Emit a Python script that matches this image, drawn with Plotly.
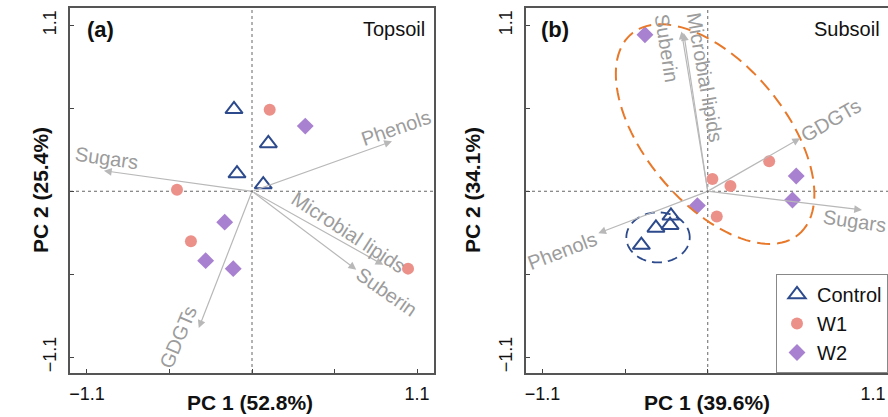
import numpy as np
import plotly.graph_objects as go

# ---------------- data ----------------
groups = ["Control", "W1", "W2"]

# Topsoil scores (PC1, PC2)
top_control_x = [-0.120, 0.109, -0.100, 0.075]
top_control_y = [0.543, 0.317, 0.117, 0.044]
top_w1_x = [0.118, -0.500, -0.407, 1.040]
top_w1_y = [0.540, 0.010, -0.331, -0.513]
top_w2_x = [0.355, -0.182, -0.309, -0.125]
top_w2_y = [0.432, -0.205, -0.460, -0.513]

# Subsoil scores (PC1, PC2)
sub_control_x = [-0.245, -0.345, -0.251, -0.442]
sub_control_y = [-0.163, -0.243, -0.225, -0.357]
sub_w1_x = [0.031, 0.151, 0.409, 0.060]
sub_w1_y = [0.081, 0.035, 0.199, -0.168]
sub_w2_x = [-0.418, 0.589, 0.564, -0.069]
sub_w2_y = [1.038, 0.101, -0.058, -0.095]

# Loadings (arrow tips)
variables = ["Sugars", "Phenols", "Microbial lipids", "Suberin", "GDGTs"]
top_load_x = [-0.987, 0.933, 0.875, 0.695, -0.355]
top_load_y = [0.136, 0.331, -0.488, -0.520, -0.907]
sub_load_x = [1.027, -0.729, -0.160, -0.175, 0.615]
sub_load_y = [-0.124, -0.278, 1.050, 1.060, 0.351]

# axis labels
pc1_top, pc2_top = "PC 1 (52.8%)", "PC 2 (25.4%)"
pc1_sub, pc2_sub = "PC 1 (39.6%)", "PC 2 (34.1%)"
tick_vals = [-1.1, -0.55, 0, 0.55, 1.1]
tick_text = ["\u22121.1", "", "", "", "1.1"]

# ---------------- styling / placement ----------------
FONT = "Liberation Sans, Arial, Helvetica, sans-serif"
GRAY_TXT = "#9c9c9c"
GRAY_ARR = "#b8b8b8"
C_CTRL = "#2c4a8c"
C_W1 = "#ec918a"
C_W2 = "#a881d0"

# label placement (x, y, angle) for loading labels
top_lab = [(-0.973, 0.222, 8), (0.96, 0.417, -19), (0.64, -0.271, 33),
           (0.898, -0.67, 35), (-0.493, -0.965, -67)]
sub_lab = [(0.975, -0.197, 8), (-0.973, -0.393, -21), (-0.018, 0.759, 80),
           (-0.271, 0.952, 81), (0.822, 0.472, -30)]

# ellipse parameters (center x, center y, semi-a, semi-b, angle deg)
ell_w = (0.049, 0.379, 0.867, 0.464, -50)
ell_c = (-0.331, -0.306, 0.211, 0.166, 0)

W, H = 888, 417
ML, MR, MT, MB = 0, 0, 8, 44
pw = W - ML - MR
dom_a = [70 / pw, 434 / pw]
dom_b = [526 / pw, 1.0]

fig = go.Figure()

def add_scatter(x, y, name, symbol, color, size, xa, ya, show, line=None):
    m = dict(symbol=symbol, size=size, color=color)
    if line:
        m["line"] = line
    else:
        m["line"] = dict(width=0)
    fig.add_trace(go.Scatter(x=x, y=y, mode="markers", name=name, marker=m,
                             xaxis=xa, yaxis=ya, showlegend=show, legendgroup=name))

add_scatter(top_control_x, top_control_y, groups[0], "triangle-up-open", C_CTRL, 15, "x", "y", True,
            dict(width=2, color=C_CTRL))
add_scatter(top_w1_x, top_w1_y, groups[1], "circle", C_W1, 12, "x", "y", True)
add_scatter(top_w2_x, top_w2_y, groups[2], "diamond", C_W2, 13, "x", "y", True)
add_scatter(sub_control_x, sub_control_y, groups[0], "triangle-up-open", C_CTRL, 15, "x2", "y2", False,
            dict(width=2, color=C_CTRL))
add_scatter(sub_w1_x, sub_w1_y, groups[1], "circle", C_W1, 12, "x2", "y2", False)
add_scatter(sub_w2_x, sub_w2_y, groups[2], "diamond", C_W2, 13, "x2", "y2", False)

annotations = []
shapes = []

def arrows(lx, ly, labs, xr, yr):
    for name, tx, ty, (lx_, ly_, ang) in zip(variables, lx, ly, labs):
        annotations.append(dict(x=tx, y=ty, ax=0, ay=0, xref=xr, yref=yr, axref=xr, ayref=yr,
                                showarrow=True, arrowhead=2, arrowsize=1.3, arrowwidth=1.2,
                                arrowcolor=GRAY_ARR, text=""))
        annotations.append(dict(x=lx_, y=ly_, xref=xr, yref=yr, text=name, showarrow=False,
                                textangle=ang, font=dict(size=20, color=GRAY_TXT, family=FONT),
                                xanchor="center", yanchor="middle"))

arrows(top_load_x, top_load_y, top_lab, "x", "y")
arrows(sub_load_x, sub_load_y, sub_lab, "x2", "y2")

# dotted zero lines
for xr, yr in (("x", "y"), ("x2", "y2")):
    shapes.append(dict(type="line", xref=xr + " domain", yref=yr, x0=0, x1=1, y0=0, y1=0,
                       line=dict(color="#666", width=1, dash="dot"), layer="below"))
    shapes.append(dict(type="line", xref=xr, yref=yr + " domain", x0=0, x1=0, y0=0, y1=1,
                       line=dict(color="#666", width=1, dash="dot"), layer="below"))

def ellipse_path(cx, cy, a, b, ang):
    t = np.linspace(0, 2 * np.pi, 120)
    th = np.deg2rad(ang)
    xs = cx + a * np.cos(t) * np.cos(th) - b * np.sin(t) * np.sin(th)
    ys = cy + a * np.cos(t) * np.sin(th) + b * np.sin(t) * np.cos(th)
    return "M " + " L ".join(f"{x:.4f},{y:.4f}" for x, y in zip(xs, ys)) + " Z"

shapes.append(dict(type="path", xref="x2", yref="y2", path=ellipse_path(*ell_w),
                   line=dict(color="#e8782a", width=2, dash="13px,7px")))
shapes.append(dict(type="path", xref="x2", yref="y2", path=ellipse_path(*ell_c),
                   line=dict(color=C_CTRL, width=1.8, dash="10px,6px")))

def px_x(p):
    return p / pw
def px_y(p):
    return (H - MB - p) / (H - MT - MB)

txt = dict(family=FONT, color="#111")
for cx, lab in ((250, pc1_top), (707, pc1_sub)):
    annotations.append(dict(x=px_x(cx), y=px_y(403), xref="paper", yref="paper", text="<b>%s</b>" % lab,
                            showarrow=False, font=dict(size=21, **txt), xanchor="center", yanchor="middle"))
for cx, lab in ((41, pc2_top), (473, pc2_sub)):
    annotations.append(dict(x=px_x(cx), y=px_y(190), xref="paper", yref="paper", text="<b>%s</b>" % lab,
                            showarrow=False, textangle=-90, font=dict(size=21, **txt),
                            xanchor="center", yanchor="middle"))
for cx, lab in ((100, "(a)"), (555, "(b)")):
    annotations.append(dict(x=px_x(cx), y=px_y(30), xref="paper", yref="paper", text="<b>%s</b>" % lab,
                            showarrow=False, font=dict(size=22, **txt), xanchor="center", yanchor="middle"))
for rx, lab in ((427, "Topsoil"), (882, "Subsoil")):
    annotations.append(dict(x=px_x(rx), y=px_y(29), xref="paper", yref="paper", text=lab,
                            showarrow=False, font=dict(size=20, **txt), xanchor="right", yanchor="middle"))

def xax(dom, rng):
    return dict(domain=dom, range=rng, tickvals=tick_vals, ticktext=tick_text, ticks="inside",
                ticklen=4, tickwidth=1, tickcolor="#444", showline=True, linecolor="#555",
                linewidth=1.5, mirror=True, showgrid=False, zeroline=False, ticklabelstandoff=4,
                tickfont=dict(size=18, family=FONT, color="#111"), fixedrange=True)

yax = dict(domain=[0, 1], range=[-1.205, 1.215], tickvals=tick_vals, ticktext=tick_text,
           ticks="inside", ticklen=4, tickwidth=1, tickcolor="#444", showline=True,
           linecolor="#555", linewidth=1.5, mirror=True, showgrid=False, zeroline=False,
           tickangle=-90, ticklabelstandoff=5, tickfont=dict(size=18, family=FONT, color="#111"))

fig.update_layout(
    width=W, height=H, autosize=False,
    margin=dict(l=ML, r=MR, t=MT, b=MB, autoexpand=False),
    paper_bgcolor="white", plot_bgcolor="white",
    xaxis=dict(xax(dom_a, [-1.213, 1.213]), anchor="y"),
    yaxis=dict(yax, anchor="x"),
    xaxis2=dict(xax(dom_b, [-1.21, 1.2]), anchor="y2"),
    yaxis2=dict(yax, anchor="x2"),
    showlegend=True,
    legend=dict(x=1.0, xanchor="right", y=0.0, yanchor="bottom", bgcolor="white",
                bordercolor="#888", borderwidth=1, font=dict(size=20, family=FONT, color="#111"),
                tracegroupgap=0, itemwidth=30),
    annotations=annotations, shapes=shapes,
    font=dict(family=FONT),
)

fig.write_html("out.html")
